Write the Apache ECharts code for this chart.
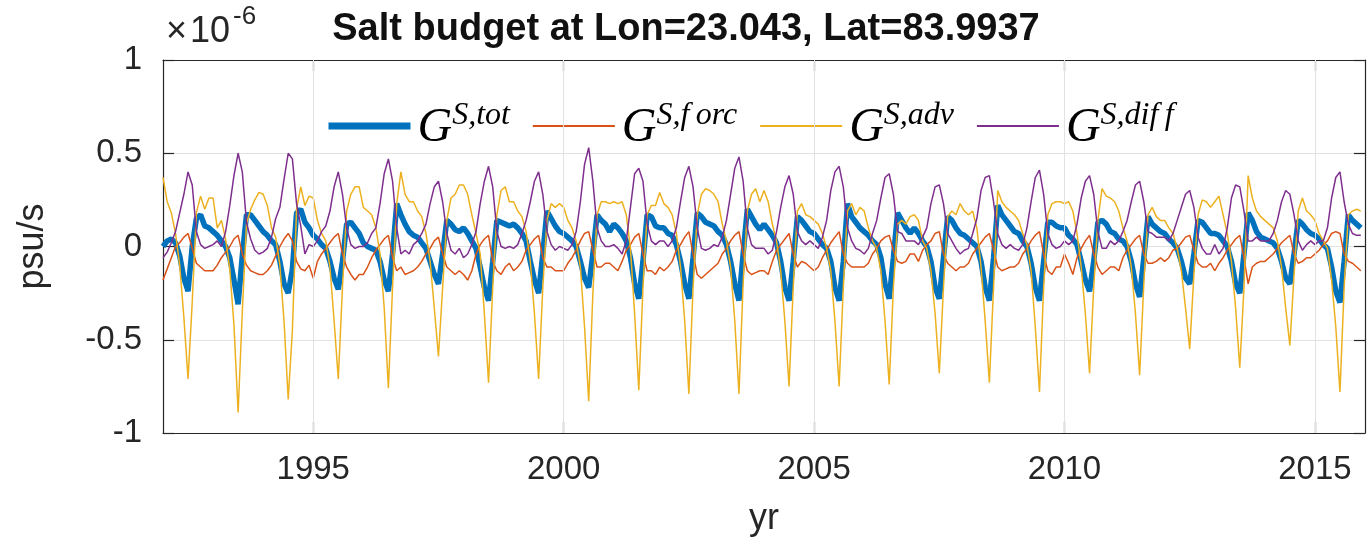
<!DOCTYPE html>
<html><head><meta charset="utf-8">
<script src="https://cdn.jsdelivr.net/npm/echarts@6/dist/echarts.min.js"></script>
<style>html,body{margin:0;padding:0;background:#fff}#c{width:1372px;height:546px}</style>
</head><body><div id="c"></div>
<script>
const startYear = 1992;
const xTicks = [1995, 2000, 2005, 2010, 2015];
const seriesNames = ['tot', 'forc', 'adv', 'diff'];
const legendSup = ['S,tot', 'S,f\u2009orc', 'S,adv', 'S,dif\u2009f'];

// monthly values, units of 1e-6 psu/s, Jan..Dec per line, 1992..2015
const tot = [
 0.00, 0.03, 0.04, 0.02,-0.05,-0.17,-0.24, 0.00, 0.15, 0.17, 0.11, 0.10,
 0.08, 0.06, 0.03, 0.00,-0.06,-0.18,-0.31,-0.05, 0.17, 0.17, 0.14, 0.11,
 0.08, 0.06, 0.03, 0.01,-0.08,-0.20,-0.25,-0.12, 0.18, 0.20, 0.13, 0.10,
 0.06, 0.04, 0.01,-0.01,-0.08,-0.17,-0.23,-0.08, 0.12, 0.13, 0.10, 0.07,
 0.02, 0.00,-0.01,-0.02,-0.08,-0.18,-0.24,-0.04, 0.23, 0.17, 0.12, 0.08,
 0.06, 0.05, 0.02,-0.01,-0.08,-0.15,-0.20,-0.04, 0.14, 0.12, 0.09, 0.08,
 0.10, 0.07, 0.03,-0.01,-0.11,-0.22,-0.29,-0.08, 0.14, 0.13, 0.12, 0.11,
 0.12, 0.10, 0.07, 0.03,-0.08,-0.18,-0.25,-0.04, 0.19, 0.15, 0.11, 0.08,
 0.07, 0.05, 0.03, 0.00,-0.08,-0.17,-0.22,-0.04, 0.17, 0.14, 0.12, 0.08,
 0.12, 0.10, 0.07, 0.03,-0.06,-0.20,-0.28,-0.08, 0.17, 0.16, 0.11, 0.10,
 0.10, 0.07, 0.06, 0.01,-0.08,-0.20,-0.28,-0.06, 0.18, 0.16, 0.13, 0.12,
 0.11, 0.08, 0.06, 0.01,-0.08,-0.20,-0.29,-0.04, 0.20, 0.16, 0.12, 0.09,
 0.12, 0.09, 0.06, 0.02,-0.08,-0.22,-0.29,-0.08, 0.16, 0.14, 0.11, 0.08,
 0.07, 0.04, 0.01,-0.01,-0.08,-0.22,-0.29,-0.08, 0.23, 0.16, 0.13, 0.10,
 0.08, 0.06, 0.03, 0.01,-0.06,-0.20,-0.28,-0.06, 0.18, 0.14, 0.10, 0.07,
 0.10, 0.07, 0.03, 0.00,-0.08,-0.22,-0.28,-0.06, 0.16, 0.14, 0.10, 0.07,
 0.06, 0.04, 0.02, 0.00,-0.08,-0.22,-0.29,-0.06, 0.22, 0.17, 0.14, 0.11,
 0.08, 0.07, 0.03, 0.00,-0.09,-0.22,-0.29,-0.08, 0.13, 0.13, 0.11, 0.10,
 0.10, 0.06, 0.04, 0.01,-0.08,-0.18,-0.24,-0.08, 0.13, 0.14, 0.12, 0.08,
 0.07, 0.04, 0.03, 0.00,-0.08,-0.20,-0.27,-0.06, 0.16, 0.12, 0.10, 0.08,
 0.07, 0.04, 0.02,-0.01,-0.08,-0.17,-0.20,-0.04, 0.14, 0.13, 0.10, 0.07,
 0.07, 0.06, 0.03, 0.00,-0.08,-0.20,-0.25,-0.04, 0.18, 0.14, 0.08, 0.05,
 0.04, 0.03, 0.02,-0.01,-0.08,-0.17,-0.20,-0.04, 0.14, 0.12, 0.09, 0.07,
 0.06, 0.04, 0.01,-0.01,-0.11,-0.24,-0.30,-0.08, 0.17, 0.14, 0.12, 0.10
];
const forc = [
-0.18,-0.12,-0.06, 0.00, 0.02, 0.05, 0.07,-0.01,-0.09,-0.11,-0.13,-0.13,
-0.13,-0.10,-0.06,-0.03, 0.00, 0.04, 0.06,-0.04,-0.10,-0.13,-0.14,-0.15,
-0.15,-0.13,-0.10,-0.05, 0.00, 0.04, 0.07, 0.03,-0.08,-0.12,-0.13,-0.10,
-0.17,-0.08,-0.04,-0.01, 0.02, 0.05, 0.07,-0.04,-0.11,-0.15,-0.18,-0.15,
-0.15,-0.11,-0.06,-0.02, 0.01, 0.04, 0.06,-0.06,-0.13,-0.11,-0.15,-0.14,
-0.13,-0.11,-0.08,-0.04,-0.01, 0.03, 0.05,-0.04,-0.11,-0.13,-0.15,-0.13,
-0.15,-0.18,-0.13,-0.04, 0.01, 0.04, 0.06,-0.08,-0.13,-0.15,-0.11,-0.09,
-0.13,-0.11,-0.08,-0.02, 0.01, 0.04, 0.06,-0.06,-0.11,-0.11,-0.13,-0.13,
-0.13,-0.09,-0.06,-0.02, 0.03, 0.07, 0.08,-0.02,-0.11,-0.11,-0.09,-0.09,
-0.11,-0.13,-0.08,-0.02, 0.01, 0.05, 0.07,-0.04,-0.13,-0.13,-0.15,-0.11,
-0.13,-0.11,-0.08,-0.02, 0.01, 0.05, 0.08,-0.04,-0.15,-0.17,-0.15,-0.13,
-0.11,-0.09,-0.04,-0.01, 0.03, 0.06, 0.08,-0.04,-0.13,-0.15,-0.14,-0.13,
-0.13,-0.15,-0.08,-0.02, 0.01, 0.04, 0.07,-0.04,-0.11,-0.08,-0.09,-0.11,
-0.13,-0.11,-0.06,-0.02, 0.02, 0.05, 0.08,-0.04,-0.09,-0.11,-0.11,-0.11,
-0.11,-0.09,-0.04,-0.01, 0.03, 0.05, 0.06,-0.02,-0.08,-0.09,-0.08,-0.04,
-0.04,-0.08,-0.02, 0.01, 0.03, 0.07, 0.08,-0.04,-0.09,-0.11,-0.13,-0.11,
-0.11,-0.09,-0.04,-0.01, 0.02, 0.05, 0.07,-0.02,-0.11,-0.13,-0.12,-0.11,
-0.11,-0.09,-0.04,-0.01, 0.03, 0.06, 0.08,-0.04,-0.13,-0.15,-0.11,-0.11,
-0.04,-0.09,-0.15,-0.06,-0.01, 0.03, 0.06,-0.04,-0.11,-0.15,-0.13,-0.11,
-0.11,-0.13,-0.06,-0.02, 0.01, 0.04, 0.06,-0.04,-0.09,-0.09,-0.08,-0.06,
-0.08,-0.06,-0.02,-0.01, 0.02, 0.05, 0.06,-0.02,-0.09,-0.11,-0.11,-0.09,
-0.13,-0.09,-0.06,-0.02, 0.01, 0.04, 0.06,-0.06,-0.20,-0.11,-0.09,-0.08,
-0.08,-0.06,-0.04,-0.01, 0.02, 0.04, 0.06,-0.04,-0.09,-0.08,-0.06,-0.06,
-0.04,-0.02, 0.01, 0.03, 0.07, 0.08, 0.07,-0.04,-0.08,-0.09,-0.11,-0.13
];
const adv = [
 0.37, 0.24, 0.18, 0.07,-0.10,-0.38,-0.71,-0.30, 0.18, 0.27, 0.20, 0.26,
 0.26, 0.10, 0.14, 0.04,-0.12,-0.42,-0.89,-0.35, 0.12, 0.20, 0.25, 0.29,
 0.28, 0.22, 0.10, 0.05,-0.10,-0.40,-0.82,-0.45, 0.20, 0.32, 0.22, 0.27,
 0.26, 0.14, 0.07, 0.03,-0.11,-0.40,-0.71,-0.22, 0.19, 0.28, 0.32, 0.32,
 0.21, 0.19, 0.17, 0.10,-0.04,-0.33,-0.76,-0.22, 0.23, 0.40, 0.28, 0.24,
 0.24, 0.19, 0.16, 0.07,-0.08,-0.33,-0.59,-0.22, 0.14, 0.26, 0.28, 0.33,
 0.33, 0.28, 0.17, 0.07,-0.04,-0.36,-0.73,-0.22, 0.17, 0.30, 0.32, 0.24,
 0.24, 0.19, 0.16, 0.08,-0.08,-0.36,-0.71,-0.22, 0.14, 0.23, 0.21, 0.23,
 0.21, 0.14, 0.10, 0.03,-0.11,-0.43,-0.83,-0.25, 0.17, 0.24, 0.24, 0.23,
 0.24, 0.23, 0.24, 0.17,-0.01,-0.36,-0.77,-0.22, 0.17, 0.22, 0.22, 0.29,
 0.23, 0.21, 0.17, 0.07,-0.11,-0.40,-0.79,-0.22, 0.17, 0.28, 0.31, 0.30,
 0.28, 0.24, 0.12, 0.03,-0.11,-0.40,-0.79,-0.20, 0.19, 0.28, 0.31, 0.24,
 0.30, 0.24, 0.12, 0.03,-0.13,-0.40,-0.75,-0.22, 0.19, 0.23, 0.17, 0.16,
 0.14, 0.12, 0.07,-0.01,-0.13,-0.40,-0.75,-0.22, 0.19, 0.23, 0.17, 0.21,
 0.19, 0.10, 0.03,-0.01,-0.13,-0.40,-0.74,-0.22, 0.12, 0.14, 0.12, 0.16,
 0.17, 0.14, 0.03,-0.01,-0.13,-0.36,-0.68,-0.22, 0.16, 0.19, 0.17, 0.23,
 0.19, 0.17, 0.19, 0.10,-0.11,-0.40,-0.73,-0.22, 0.30, 0.24, 0.21, 0.19,
 0.17, 0.14, 0.07, 0.01,-0.13,-0.43,-0.78,-0.22, 0.17, 0.23, 0.24, 0.24,
 0.23, 0.24, 0.19, 0.07,-0.11,-0.36,-0.68,-0.22, 0.14, 0.31, 0.27, 0.26,
 0.24, 0.19, 0.10, 0.03,-0.11,-0.36,-0.69,-0.20, 0.17, 0.21, 0.16, 0.14,
 0.14, 0.10, 0.07,-0.01,-0.13,-0.33,-0.55,-0.15, 0.17, 0.25, 0.24, 0.21,
 0.24, 0.27, 0.17, 0.07,-0.08,-0.33,-0.65,-0.22, 0.38, 0.26, 0.19, 0.16,
 0.14, 0.12, 0.10, 0.03,-0.11,-0.33,-0.53,-0.15, 0.19, 0.26, 0.19, 0.17,
 0.14, 0.07, 0.03,-0.01,-0.18,-0.43,-0.78,-0.22, 0.17, 0.19, 0.20, 0.19
];
const diff = [
-0.06,-0.03, 0.02, 0.08, 0.18, 0.28, 0.40, 0.33, 0.08, 0.01,-0.01, 0.00,
 0.01, 0.03, 0.00, 0.08, 0.22, 0.38, 0.50, 0.40, 0.13, 0.04,-0.02,-0.04,
-0.03,-0.01, 0.05, 0.15, 0.21, 0.36, 0.50, 0.47, 0.23, 0.11,-0.04, 0.01,
 0.00, 0.03, 0.08, 0.11, 0.19, 0.32, 0.40, 0.28, 0.10, 0.01,-0.01, 0.00,
 0.00, 0.02, 0.07, 0.10, 0.23, 0.39, 0.47, 0.35, 0.10,-0.04,-0.02,-0.04,
 0.01, 0.03, 0.07, 0.12, 0.23, 0.32, 0.35, 0.24, 0.07,-0.02,-0.04,-0.01,
-0.06,-0.04, 0.01, 0.08, 0.23, 0.35, 0.43, 0.32, 0.08, 0.00,-0.01, 0.00,
-0.01, 0.01, 0.07, 0.14, 0.24, 0.35, 0.40, 0.28, 0.08, 0.01,-0.02, 0.00,
-0.01,-0.02, 0.01, 0.08, 0.24, 0.44, 0.53, 0.35, 0.10, 0.03, 0.00, 0.00,
 0.01,-0.01,-0.04, 0.03, 0.21, 0.39, 0.42, 0.35, 0.12, 0.03, 0.01, 0.03,
 0.03, 0.00, 0.03, 0.10, 0.24, 0.37, 0.43, 0.32, 0.10,-0.01,-0.02,-0.01,
 0.01, 0.00, 0.05, 0.14, 0.28, 0.42, 0.48, 0.35, 0.10, 0.01,-0.01,-0.01,
-0.01,-0.04,-0.02, 0.08, 0.21, 0.32, 0.38, 0.28, 0.08, 0.03, 0.01, 0.03,
 0.01,-0.01, 0.05, 0.14, 0.30, 0.40, 0.43, 0.32, 0.10, 0.03,-0.01,-0.02,
-0.04,-0.01, 0.07, 0.14, 0.26, 0.37, 0.39, 0.28, 0.08, 0.07, 0.03, 0.03,
 0.03, 0.01, 0.05, 0.10, 0.23, 0.32, 0.33, 0.23, 0.07, 0.03,-0.01,-0.04,
-0.02,-0.01, 0.07, 0.15, 0.30, 0.37, 0.38, 0.24, 0.07, 0.01,-0.01, 0.01,
-0.01,-0.02, 0.01, 0.10, 0.24, 0.37, 0.41, 0.28, 0.07, 0.01,-0.01, 0.00,
 0.03, 0.01, 0.03, 0.12, 0.26, 0.35, 0.38, 0.28, 0.08,-0.01,-0.01, 0.03,
 0.01, 0.03, 0.08, 0.14, 0.24, 0.33, 0.35, 0.24, 0.08, 0.07, 0.05, 0.05,
 0.05, 0.03, 0.07, 0.14, 0.21, 0.28, 0.30, 0.21, 0.05,-0.01,-0.04,-0.04,
 0.01,-0.04,-0.01, 0.10, 0.26, 0.33, 0.32, 0.19, 0.03, 0.03, 0.05, 0.03,
 0.03, 0.03, 0.07, 0.14, 0.24, 0.30, 0.28, 0.17, 0.03,-0.02, 0.01, 0.03,
 0.01, 0.03, 0.03, 0.10, 0.26, 0.37, 0.40, 0.24, 0.12, 0.07, 0.06, 0.06
];

const months = tot.map((_, k) => startYear + k / 12);
const pairs = v => v.map((y, k) => [months[k], y]);
const colors = { tot: '#0072BD', forc: '#D95319', adv: '#EDB120', diff: '#7E2F8E' };
const widths = { tot: 5.5, forc: 1.5, adv: 1.5, diff: 1.5 };
const legendWidths = { tot: 7, forc: 1.8, adv: 1.8, diff: 1.8 };
const values = { tot, forc, adv, diff };

const ink = '#262626';
const gridColor = '#e2e2e2';
const chart = echarts.init(document.getElementById('c'), null, { renderer: 'canvas' });

const seriesList = [{
  name: 'gridlines', type: 'line', data: [], silent: true, z: 1,
  markLine: { silent: true, symbol: 'none', label: { show: false }, animation: false,
    lineStyle: { color: gridColor, type: 'solid', width: 1 },
    data: xTicks.map(v => ({ xAxis: v })) }
}].concat(seriesNames.map(n => ({
  name: n, type: 'line', data: pairs(values[n]), symbol: 'none', showSymbol: false,
  lineStyle: { color: colors[n], width: widths[n] }, itemStyle: { color: colors[n] },
  z: 2, animation: false
})));

chart.setOption({
  animation: false,
  title: {
    text: 'Salt budget at Lon=23.043, Lat=83.9937', left: 'center', top: 6,
    textStyle: { fontSize: 38, fontWeight: 'bold', color: '#111', fontFamily: 'Liberation Sans' }
  },
  legend: {
    left: 320, top: 95, itemWidth: 82, itemHeight: 20, itemGap: 22,
    selectedMode: false,
    itemStyle: { opacity: 0 },
    data: seriesNames.map(n => ({ name: n, lineStyle: { width: legendWidths[n], color: colors[n] }, itemStyle: { opacity: 0 } })),
    formatter: n => '{g|G}{s|' + legendSup[seriesNames.indexOf(n)] + '}',
    textStyle: {
      padding: [0, 0, 0, 2],
      rich: {
        g: { fontFamily: 'Liberation Serif', fontStyle: 'italic', fontSize: 48, lineHeight: 52, color: '#000', verticalAlign: 'bottom' },
        s: { fontFamily: 'Liberation Serif', fontStyle: 'italic', fontSize: 32, lineHeight: 32, color: '#000', verticalAlign: 'top' }
      }
    }
  },
  graphic: [{
    type: 'text', left: 166, top: 4, silent: true,
    style: {
      text: '{a|\u00d7\u200a10}{b|-6}',
      rich: {
        a: { fontSize: 36, fontFamily: 'Liberation Sans', fill: ink, lineHeight: 46, verticalAlign: 'bottom' },
        b: { fontSize: 26, fontFamily: 'Liberation Sans', fill: ink, lineHeight: 26, verticalAlign: 'top', padding: [0, 0, 0, 3] }
      }
    }
  }],
  grid: { left: 163, right: 7, top: 60, bottom: 113, containLabel: false },
  xAxis: [{
    type: 'value', min: 1992, max: 2016, position: 'bottom',
    axisLine: { show: true, onZero: false, lineStyle: { color: ink, width: 1.2 } },
    axisTick: { show: true, inside: true, length: 11, customValues: xTicks, lineStyle: { color: ink, width: 1.2 } },
    axisLabel: { customValues: xTicks, fontSize: 33, color: ink, fontFamily: 'Liberation Sans', margin: 20, formatter: v => String(v) },
    splitLine: { show: false },
    name: 'yr', nameLocation: 'middle', nameGap: 68,
    nameTextStyle: { fontSize: 36, color: ink, fontFamily: 'Liberation Sans' }
  }, {
    type: 'value', min: 1992, max: 2016, position: 'top',
    axisLine: { show: true, onZero: false, lineStyle: { color: ink, width: 1.2 } },
    axisTick: { show: true, inside: true, length: 11, customValues: xTicks, lineStyle: { color: ink, width: 1.2 } },
    axisLabel: { show: false }, splitLine: { show: false }
  }],
  yAxis: [{
    type: 'value', min: -1, max: 1, interval: 0.5, position: 'left',
    axisLine: { show: true, onZero: false, lineStyle: { color: ink, width: 1.2 } },
    axisTick: { show: true, inside: true, length: 11, lineStyle: { color: ink, width: 1.2 } },
    axisLabel: { fontSize: 33, color: ink, fontFamily: 'Liberation Sans', margin: 21, formatter: v => String(v) },
    splitLine: { show: true, lineStyle: { color: gridColor, width: 1 } },
    name: 'psu/s', nameLocation: 'middle', nameGap: 112,
    nameTextStyle: { fontSize: 36, color: ink, fontFamily: 'Liberation Sans' }
  }, {
    type: 'value', min: -1, max: 1, interval: 0.5, position: 'right',
    axisLine: { show: true, onZero: false, lineStyle: { color: ink, width: 1.2 } },
    axisTick: { show: true, inside: true, length: 11, lineStyle: { color: ink, width: 1.2 } },
    axisLabel: { show: false }, splitLine: { show: false }
  }],
  series: seriesList
});
</script></body></html>
